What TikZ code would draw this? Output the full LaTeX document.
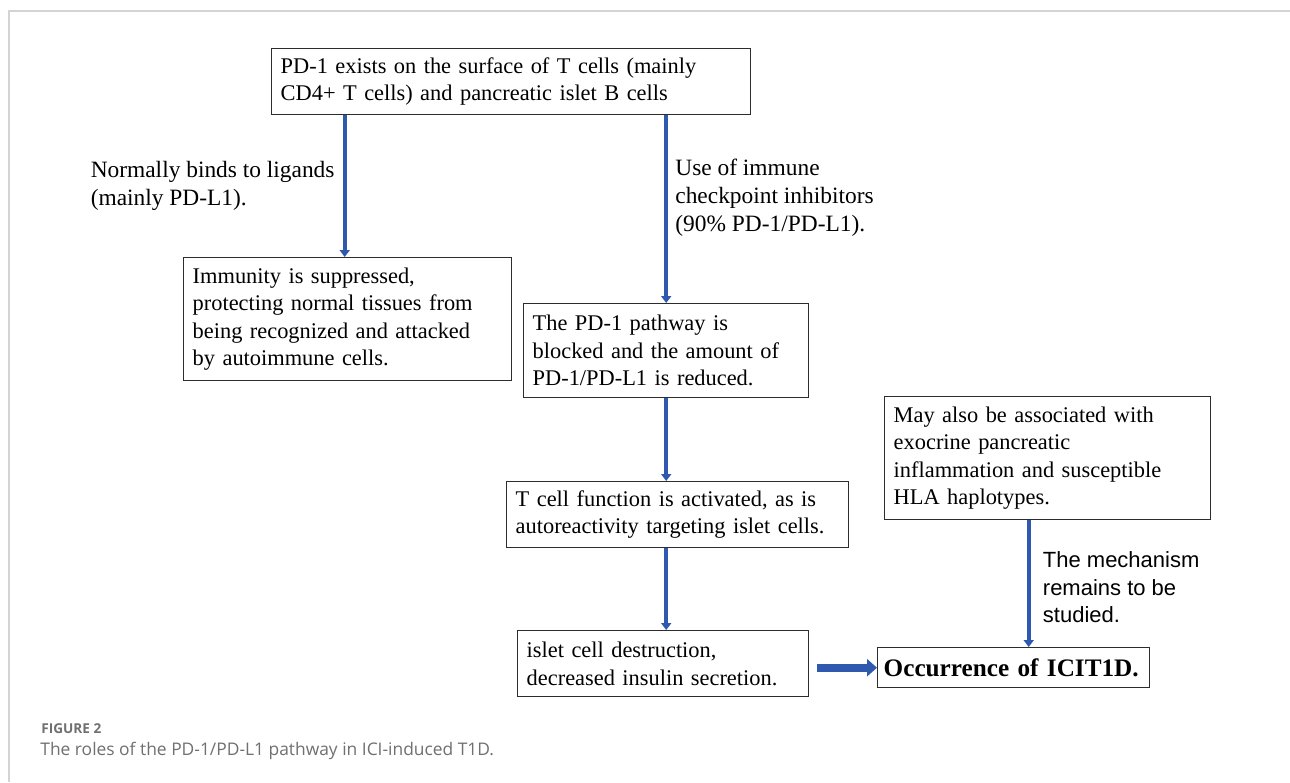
\documentclass[tikz,border=0pt]{standalone}
\usepackage{fontspec}
\setmainfont{Liberation Serif}
\newfontfamily\lblsans{Liberation Sans}
\newfontfamily\capsans{Open Sans}
\usetikzlibrary{arrows.meta,calc}
\definecolor{arrowblue}{RGB}{47,89,175}
\definecolor{framegray}{RGB}{212,212,212}
\definecolor{capgray}{RGB}{112,112,112}
\definecolor{boxline}{RGB}{45,45,45}
\begin{document}
\begin{tikzpicture}[x=0.5pt,y=-0.5pt,
  box/.style={draw=boxline, line width=0.7pt, anchor=north west, inner xsep=4.5pt, inner ysep=0pt, align=left, font=\fontsize{11.2}{13.75}\selectfont},
  boldbox/.style={box, inner xsep=3pt, font=\bfseries\fontsize{12.6}{15}\selectfont},
  varrow/.style={draw=arrowblue, line width=2.2pt, -{Triangle[length=3.5pt,width=5pt]}},
  harrow/.style={draw=arrowblue, line width=4pt, -{Triangle[length=5pt,width=8.5pt]}},
  lbl/.style={inner xsep=4pt, inner ysep=0pt, align=left, font=\fontsize{11.7}{14}\selectfont},
  sanslbl/.style={inner xsep=6pt, inner ysep=0pt, align=left, font=\lblsans\fontsize{11}{13.75}\selectfont},
  captext/.style={anchor=base west, inner sep=0pt, text=capgray}
]
\useasboundingbox (0,0) rectangle (1290,782);
\fill[white] (0,0) rectangle (1290,782);
% frame
\draw[framegray, line width=0.6pt] (1290,11) -- (9,11) -- (9,782);

% boxes
\node[box, text width=230.5pt, minimum height=33pt] (top) at (271,48)
  {PD-1 exists on the surface of T cells (mainly\\CD4+ T cells) and pancreatic islet B cells};
\node[box, text width=155pt, minimum height=61.5pt] (supp) at (183,257)
  {Immunity is suppressed,\\protecting normal tissues from\\being recognized and attacked\\by autoimmune cells.};
\node[box, text width=133.5pt, minimum height=47pt] (block) at (523,303)
  {The PD-1 pathway is\\blocked and the amount of\\PD-1/PD-L1 is reduced.};
\node[box, text width=162pt, minimum height=33pt] (act) at (506,481)
  {T cell function is activated, as is\\autoreactivity targeting islet cells.};
\node[box, text width=136.5pt, minimum height=33pt] (destr) at (517,630)
  {islet cell destruction,\\decreased insulin secretion.};
\node[boldbox, text width=130pt, minimum height=20pt] (occ) at (877,647)
  {Occurrence of ICIT1D.};
\node[box, text width=154pt, minimum height=61.5pt] (assoc) at (884,396)
  {May also be associated with\\exocrine pancreatic\\inflammation and susceptible\\HLA haplotypes.};

% connectors
\coordinate (la) at ($(supp.north)+(-3,0)$);
\draw[varrow] (la |- top.south) -- node[lbl, pos=0.5, anchor=east]
  {Normally binds to ligands\\(mainly PD-L1).} (la);
\draw[varrow] (block.north |- top.south) -- node[lbl, pos=0.44, anchor=west, inner xsep=3.5pt]
  {Use of immune\\checkpoint inhibitors\\(90\% PD-1/PD-L1).} (block.north);
\draw[varrow] (block.south) -- (block.south |- act.north);
\draw[varrow] (block.south |- act.south) -- (block.south |- destr.north);
\coordinate (ma) at ($(assoc.south west)!0.442!(assoc.south east)$);
\draw[varrow] (ma) -- node[sanslbl, pos=0.53, anchor=west]
  {The mechanism\\remains to be\\studied.} (ma |- occ.north);
\draw[harrow] ($(occ.west -| destr.east)+(8,0)$) -- (occ.west);

% caption
\node[captext, font=\capsans\bfseries\fontsize{6.8}{8}\selectfont] (fig) at (41,733) {FIGURE 2};
\node[captext, font=\capsans\fontsize{8.7}{10}\selectfont] (cap) at (40,755)
  {The roles of the PD-1/PD-L1 pathway in ICI-induced T1D.};
\end{tikzpicture}
\end{document}
